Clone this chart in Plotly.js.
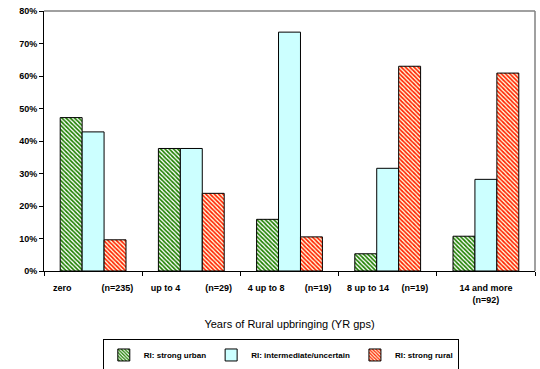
<!DOCTYPE html>
<html>
<head>
<meta charset="utf-8">
<script src="https://cdn.plot.ly/plotly-3.0.1.min.js"></script>
<style>html,body{margin:0;padding:0;background:#fff;}#chart{width:540px;height:369px;}</style>
</head>
<body>
<div id="chart"></div>
<script>
var categories = ["zero", "up to 4", "4 up to 8", "8 up to 14", "14 and more"];
var labelsLeft = ["zero", "up to 4", "4 up to 8", "8 up to 14", "14 and more"];
var labelsRight = ["(n=235)", "(n=29)", "(n=19)", "(n=19)", "(n=92)"];
var seriesNames = ["RI: strong urban", "RI: intermediate/uncertain", "RI: strong rural"];
var strongUrban = [47.2, 37.7, 15.9, 5.3, 10.7];
var intermediate = [42.8, 37.7, 73.5, 31.6, 28.2];
var strongRural = [9.6, 23.9, 10.5, 63.0, 60.9];

var sp = "\u00a0";
var gaps = [12, 10, 8, 5];
function pad(n){ var s=""; for(var i=0;i<n;i++) s+=sp; return s; }
var ticktext = categories.map(function(c, i){
  if (i === categories.length - 1) return labelsLeft[i] + "<br>" + labelsRight[i];
  return labelsLeft[i] + pad(gaps[i]) + labelsRight[i];
});

var fontFam = "Liberation Sans, Arial, sans-serif";
var traces = [
  {type:"bar", name:seriesNames[0], x:categories, y:strongUrban,
   marker:{color:"#ffffff", line:{color:"#000000", width:1},
           pattern:{shape:"\\", fgcolor:"#1e8000", bgcolor:"#ffffff", size:3, solidity:0.55}}},
  {type:"bar", name:seriesNames[1], x:categories, y:intermediate,
   marker:{color:"#ccffff", line:{color:"#000000", width:1}}},
  {type:"bar", name:seriesNames[2], x:categories, y:strongRural,
   marker:{color:"#ffffff", line:{color:"#000000", width:1},
           pattern:{shape:"\\", fgcolor:"#ff2000", bgcolor:"#ffffe0", size:3, solidity:0.55}}}
];

var layout = {
  width:540, height:369,
  margin:{l:44, r:5, t:11, b:98},
  paper_bgcolor:"#ffffff", plot_bgcolor:"#ffffff",
  barmode:"group", bargap:0.33, bargroupgap:0,
  font:{family:fontFam, color:"#000000"},
  xaxis:{type:"category", tickmode:"array", tickvals:categories, ticktext:ticktext,
         tickangle:0, automargin:false, ticklabelstandoff:8,
         tickson:"boundaries", ticks:"outside", ticklen:4, tickcolor:"#000",
         showline:true, linecolor:"#000", linewidth:1, showgrid:false,
         tickfont:{size:9, family:fontFam, weight:"bold"},
         title:{text:"Years of Rural upbringing (YR gps)", font:{size:11, family:fontFam}, standoff:16}},
  yaxis:{range:[0,80], dtick:10, ticksuffix:"%", ticks:"outside", ticklen:4, tickcolor:"#000",
         showline:true, linecolor:"#000", linewidth:1, showgrid:false, zeroline:false,
         tickfont:{size:9, family:fontFam, weight:"bold"}},
  shapes:[
    {type:"line", xref:"paper", yref:"paper", x0:0, x1:1, y0:1, y1:1, line:{color:"#808080", width:1.5}},
    {type:"line", xref:"paper", yref:"paper", x0:1, x1:1, y0:0, y1:1, line:{color:"#808080", width:1.5}}
  ],
  legend:{orientation:"h", x:0.52, xanchor:"center", xref:"container", y:0.08, yanchor:"top", yref:"container",
          bordercolor:"#000", borderwidth:1, bgcolor:"#fff",
          font:{size:8, family:fontFam, weight:"bold"}, itemwidth:30, tracegroupgap:0}
};

Plotly.newPlot("chart", traces, layout, {displayModeBar:false, staticPlot:true});
</script>
</body>
</html>
